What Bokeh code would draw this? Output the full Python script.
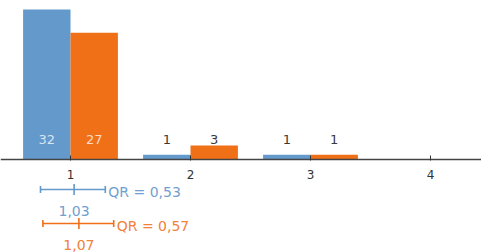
from bokeh.plotting import figure
from bokeh.models import ColumnDataSource, FixedTicker, Range1d
from bokeh.core.properties import value
from bokeh.embed import file_html
from bokeh.resources import INLINE

# ---- data ----
categories = [1, 2, 3, 4]
tick_labels = ["1", "2", "3", "4"]
blue_counts = [32, 1, 1, 0]
orange_counts = [27, 3, 1, 0]
blue_median, blue_q1, blue_q3, blue_iqr = 1.03, 0.75, 1.29, "0,53"
orange_median, orange_q1, orange_q3, orange_iqr = 1.07, 0.77, 1.36, "0,57"
blue_median_label = "1,03"
orange_median_label = "1,07"

BLUE = "#6399cb"
ORANGE = "#f07018"
BLUE_TXT = "#6f9fd0"
ORANGE_TXT = "#f2813a"
FONT = "DejaVu Sans"

W, H = 481, 252
PPU = 4.69            # pixels per count unit
BASE_PX = 159         # baseline from top of figure
top_val = BASE_PX / PPU
bot_val = -(H - BASE_PX) / PPU
XPX = 120.0
x0 = 1 - 70 / XPX
x1 = x0 + W / XPX

p = figure(width=W, height=H, output_backend="svg", toolbar_location=None,
           x_range=Range1d(x0, x1), y_range=Range1d(bot_val, top_val),
           min_border=0, tools="")
p.outline_line_color = None
p.grid.visible = False
p.yaxis.visible = False
p.background_fill_color = "white"
p.border_fill_color = "white"

bw = 0.395
src = ColumnDataSource(dict(
    x=categories,
    xb=[c - bw / 2 for c in categories],
    xo=[c + bw / 2 for c in categories],
    blue=blue_counts, orange=orange_counts,
))
p.vbar(x="xb", top="blue", width=bw, bottom=0, source=src, fill_color=BLUE, line_color=None)
p.vbar(x="xo", top="orange", width=bw, bottom=0, source=src, fill_color=ORANGE, line_color=None)

# count labels
lab_y = 20.5 / PPU
def lab_data(xs, vals):
    xx, yy, tt, cc = [], [], [], []
    for x, v in zip(xs, vals):
        if v == 0:
            continue
        xx.append(x); yy.append(lab_y); tt.append(str(v))
        cc.append("rgba(255,255,255,0.75)" if v > lab_y + 3 else "#3a3a3a")
    return dict(x=xx, y=yy, t=tt, c=cc)
for xs, vals in ((src.data["xb"], blue_counts), (src.data["xo"], orange_counts)):
    ls = ColumnDataSource(lab_data(xs, vals))
    p.text(x="x", y="y", text="t", text_color="c", source=ls, text_font=value(FONT),
           text_font_size="13px", text_align="center", text_baseline="middle")

# axis at zero
p.xaxis.fixed_location = 0
p.xaxis.ticker = FixedTicker(ticks=categories)
p.xaxis.major_label_overrides = {c: l for c, l in zip(categories, tick_labels)}
p.xaxis.axis_line_color = "#444444"
p.xaxis.axis_line_width = 1.5
p.xaxis.major_tick_line_color = "#333333"
p.xaxis.major_tick_in = 4
p.xaxis.major_tick_out = 1
p.xaxis.minor_tick_line_color = None
p.xaxis.major_label_text_font = FONT
p.xaxis.major_label_text_font_size = "12px"
p.xaxis.major_label_text_color = "#333333"
p.xaxis.major_label_standoff = 9

# IQR error bars
def iqr_bar(q1, q3, med, iqr_txt, med_txt, y_px, lab_px, col, tcol):
    y = -y_px / PPU
    cap = 3.5 / PPU
    mt = 5.5 / PPU
    p.segment(x0=[q1], y0=[y], x1=[q3], y1=[y], line_color=col, line_width=1.6)
    p.segment(x0=[q1, q3], y0=[y - cap] * 2, x1=[q1, q3], y1=[y + cap] * 2,
              line_color=col, line_width=1.6)
    p.segment(x0=[med], y0=[y - mt], x1=[med], y1=[y + mt], line_color=col, line_width=1.6)
    p.text(x=[q3], y=[y], text=["QR = " + iqr_txt], x_offset=3, y_offset=2, text_color=tcol,
           text_font=value(FONT), text_font_size="14px", text_align="left",
           text_baseline="middle")
    p.text(x=[med], y=[-lab_px / PPU], text=[med_txt], text_color=tcol,
           text_font=value(FONT), text_font_size="14px", text_align="center",
           text_baseline="middle")

iqr_bar(blue_q1, blue_q3, blue_median, blue_iqr, blue_median_label, 30, 51, BLUE, BLUE_TXT)
iqr_bar(orange_q1, orange_q3, orange_median, orange_iqr, orange_median_label, 64, 85, ORANGE, ORANGE_TXT)

open("out.html", "w").write(file_html(p, INLINE))
